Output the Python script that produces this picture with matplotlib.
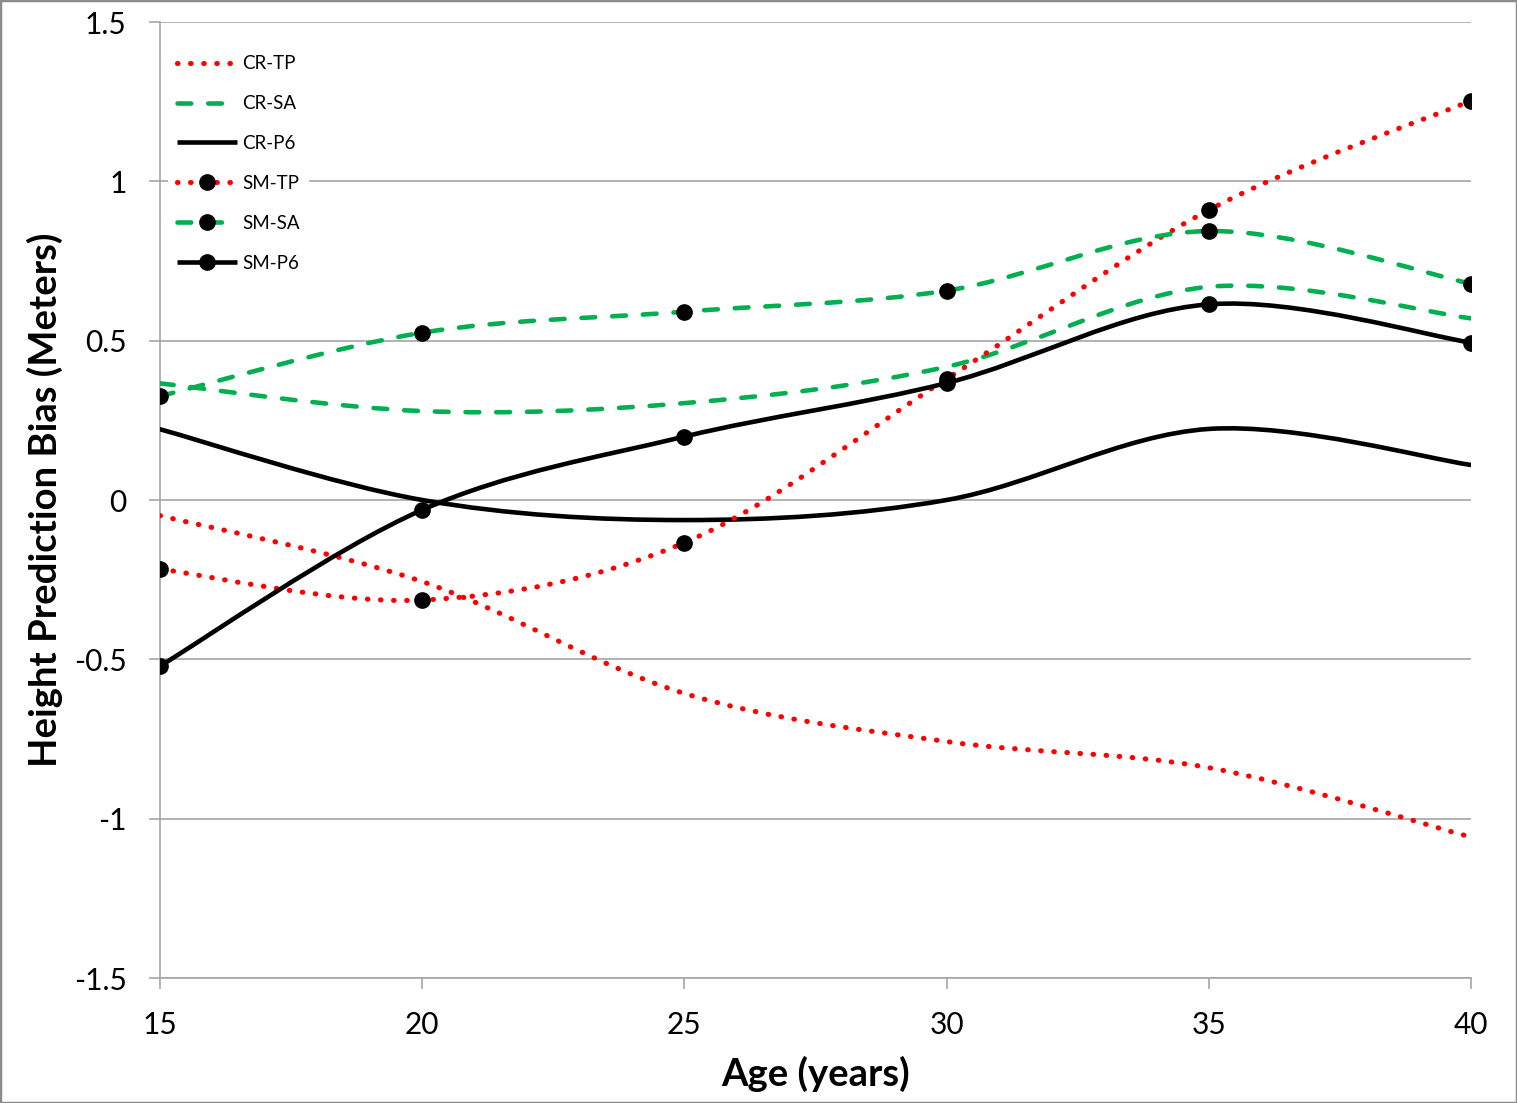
import matplotlib
matplotlib.use("Agg")
import matplotlib.pyplot as plt
from matplotlib.path import Path
from matplotlib.patches import PathPatch, Rectangle
from matplotlib.lines import Line2D

plt.rcParams['font.family'] = ['Lato', 'DejaVu Sans']

# ---- data ----
ages = [15, 20, 25, 30, 35, 40]
cr_tp = [-0.049, -0.256, -0.607, -0.758, -0.84, -1.058]
cr_sa = [0.366, 0.279, 0.304, 0.418, 0.669, 0.570]
cr_p6 = [0.222, 0.0, -0.063, 0.0, 0.223, 0.110]
sm_tp = [-0.217, -0.314, -0.134, 0.380, 0.910, 1.253]
sm_sa = [0.326, 0.525, 0.591, 0.657, 0.844, 0.679]
sm_p6 = [-0.521, -0.031, 0.199, 0.367, 0.614, 0.494]

series_names = ['CR-TP', 'CR-SA', 'CR-P6', 'SM-TP', 'SM-SA', 'SM-P6']
series_vals = [cr_tp, cr_sa, cr_p6, sm_tp, sm_sa, sm_p6]
has_marker = [False, False, False, True, True, True]

x_ticks = [15, 20, 25, 30, 35, 40]
y_ticks = [-1.5, -1, -0.5, 0, 0.5, 1, 1.5]
y_tick_labels = ['-1.5', '-1', '-0.5', '0', '0.5', '1', '1.5']

RED = '#FF0000'
GREEN = '#00B050'
BLACK = '#000000'
styles = {
    'TP': dict(color=RED, ls=(0, (0.1, 2.45)), lw=3.7),
    'SA': dict(color=GREEN, ls=(0, (3.0, 3.7)), lw=3.3),
    'P6': dict(color=BLACK, ls='-', lw=3.3),
}


def smooth_path(xs, ys):
    """Excel-style smoothed line as cubic Bezier path (control points from neighbours)."""
    pts = list(zip(xs, ys))
    n = len(pts)
    verts = [pts[0]]
    codes = [Path.MOVETO]
    for i in range(n - 1):
        p0 = pts[i - 1] if i > 0 else pts[i]
        p1 = pts[i]
        p2 = pts[i + 1]
        p3 = pts[i + 2] if i + 2 < n else pts[i + 1]
        c1 = (p1[0] + (p2[0] - p0[0]) / 6.0, p1[1] + (p2[1] - p0[1]) / 6.0)
        c2 = (p2[0] - (p3[0] - p1[0]) / 6.0, p2[1] - (p3[1] - p1[1]) / 6.0)
        verts += [c1, c2, p2]
        codes += [Path.CURVE4] * 3
    return Path(verts, codes)


fig = plt.figure(figsize=(15.17, 11.03), dpi=100)
ax = fig.add_axes([160 / 1517, 1 - 978 / 1103, (1471 - 160) / 1517, (978 - 22) / 1103])

handles = []
for name, vals, mk in zip(series_names, series_vals, has_marker):
    st = styles[name.split('-')[1]]
    patch = PathPatch(smooth_path(ages, vals), fill=False, edgecolor=st['color'],
                      linewidth=st['lw'], linestyle=st['ls'], capstyle='round',
                      joinstyle='round', zorder=3)
    ax.add_patch(patch)
    if mk:
        ax.plot(ages, vals, linestyle='none', marker='o', markersize=11,
                color=BLACK, zorder=4)
    handles.append(Line2D([], [], color=st['color'], linewidth=st['lw'], linestyle=st['ls'],
                          dash_capstyle='round', solid_capstyle='butt',
                          marker='o' if mk else None, markersize=11,
                          markerfacecolor=BLACK, markeredgecolor=BLACK))

ax.set_xlim(15, 40)
ax.set_ylim(-1.5, 1.5)
ax.set_xticks(x_ticks)
ax.set_xticklabels([str(v) for v in x_ticks])
ax.set_yticks(y_ticks)
ax.set_yticklabels(y_tick_labels)

for s in ['top', 'right']:
    ax.spines[s].set_visible(False)
for s in ['left', 'bottom']:
    ax.spines[s].set_color('#A6A6A6')
    ax.spines[s].set_linewidth(1.2)
ax.grid(axis='y', color='#A6A6A6', linewidth=1.2, zorder=0)
ax.set_axisbelow(True)
ax.tick_params(axis='both', direction='out', length=8, width=1.2, color='#A6A6A6',
               labelsize=21.5, labelcolor='black')
ax.tick_params(axis='y', pad=16)
ax.tick_params(axis='x', pad=16)

ax.set_xlabel('Age (years)', fontsize=27.5, fontweight='bold', labelpad=12)
ax.set_ylabel('Height Prediction Bias (Meters)', fontsize=27.5, fontweight='bold', labelpad=8)

leg = ax.legend(handles, series_names, loc='upper left', bbox_to_anchor=(0.006, 0.975),
                fontsize=13.5, handlelength=3.2, handletextpad=0.25, labelspacing=1.22,
                numpoints=1, frameon=True, fancybox=False, framealpha=1.0,
                facecolor='white', edgecolor='none', borderpad=0.5, borderaxespad=0)
leg.set_zorder(5)

fig.patches.append(Rectangle((0, 0), 1, 1, transform=fig.transFigure, fill=False,
                             edgecolor='#8C8C8C', linewidth=2.5, zorder=10))

fig.savefig('out.png', dpi=100)
